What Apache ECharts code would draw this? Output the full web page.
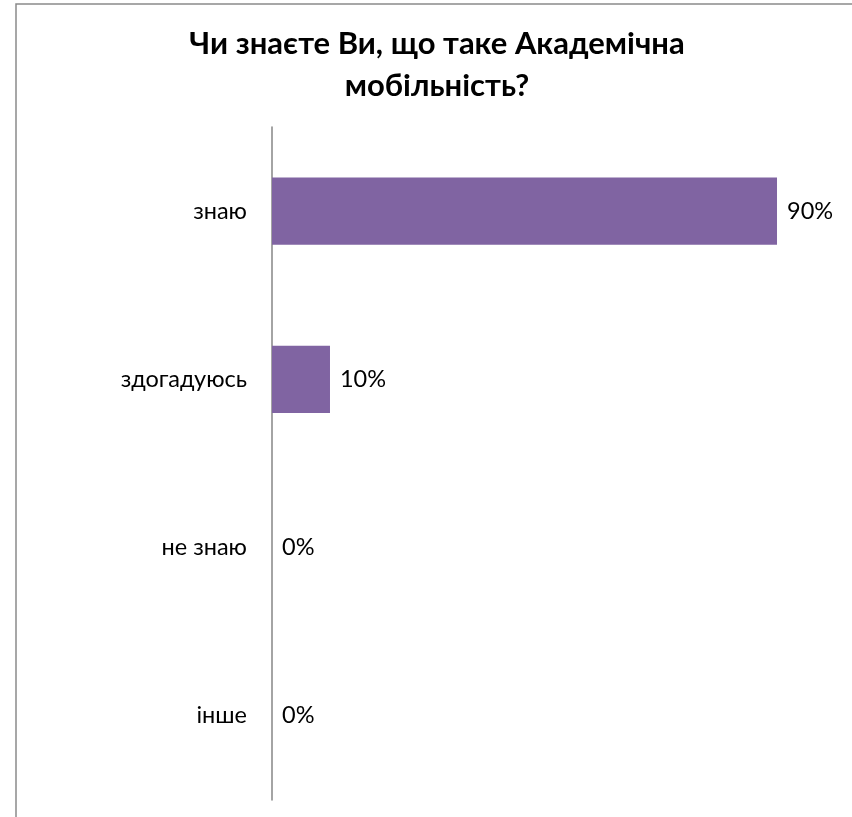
<!DOCTYPE html>
<html>
<head>
<meta charset="utf-8">
<script src="https://cdn.jsdelivr.net/npm/echarts@6/dist/echarts.min.js"></script>
<style>
html,body{margin:0;padding:0;background:#fff;}
#chart{width:852px;height:817px;}
</style>
</head>
<body>
<div id="chart"></div>
<script>
const titleLines = ['Чи знаєте Ви, що таке Академічна', 'мобільність?'];
const categories = ['знаю', 'здогадуюсь', 'не знаю', 'інше'];
const values = [89.7, 10.3, 0, 0];

const chart = echarts.init(document.getElementById('chart'));
chart.setOption({
  backgroundColor: '#ffffff',
  animation: false,
  title: {
    text: titleLines.join('\n'),
    left: 432,
    top: 18,
    textAlign: 'center',
    textStyle: {
      fontFamily: 'Lato, "Open Sans", sans-serif',
      fontWeight: 'bold',
      fontSize: 31,
      lineHeight: 42,
      color: '#000000'
    }
  },
  graphic: [{
    type: 'rect',
    shape: { x: 16, y: 4, width: 900, height: 900 },
    style: { fill: 'none', stroke: '#8a8a8a', lineWidth: 1.5 },
    silent: true,
    z: -10
  }],
  grid: { left: 272, top: 127, right: 17, bottom: 17, containLabel: false },
  xAxis: {
    type: 'value', min: 0, max: 100, show: false
  },
  yAxis: {
    type: 'category',
    data: categories,
    inverse: true,
    axisLine: { show: true, lineStyle: { color: '#868686', width: 1.5 } },
    axisTick: { show: false },
    axisLabel: {
      margin: 25,
      fontSize: 23.5,
      color: '#000000',
      fontFamily: 'Lato, "Open Sans", sans-serif'
    },
    splitLine: { show: false }
  },
  series: [{
    type: 'bar',
    data: values,
    barWidth: '40%',
    itemStyle: { color: '#8064A2' },
    label: {
      show: true,
      position: 'right',
      distance: 10,
      fontSize: 23.5,
      color: '#000000',
      fontFamily: 'Lato, "Open Sans", sans-serif',
      formatter: p => Math.round(p.value) + '%'
    }
  }]
});
</script>
</body>
</html>
